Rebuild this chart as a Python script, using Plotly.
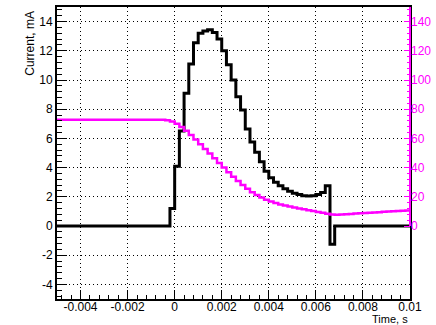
import numpy as np
import plotly.graph_objects as go

# ---------------- data ----------------
bin_start = -0.005
bin_width = 0.0002

# black histogram: current, mA (left axis), 75 bins from -0.005 to 0.01
current_mA = (
    [0.0] * 24 +
    [1.2,
     4.1, 6.5, 9.1, 11.1, 12.55, 13.2, 13.35, 13.45, 13.25, 12.8,
     12.0, 11.05, 10.0, 8.85, 7.95, 6.65, 5.75, 5.05, 4.4, 3.75,
     3.3, 3.0, 2.75, 2.55, 2.38, 2.25, 2.15, 2.08, 2.05, 2.08,
     2.15, 2.3, 2.75,
     -1.25] +
    [0.0] * 16
)

# magenta histogram: right-axis quantity, 75 bins from -0.005 to 0.01
magenta_vals = (
    [72.8] * 23 +
    [72.5, 71.5,
     70.0, 67.8, 65.2, 62.3, 59.2, 56.0, 52.8, 49.6, 46.4, 43.2,
     40.0, 36.8, 33.8, 30.8, 28.0, 25.5, 23.2, 21.2, 19.5, 18.0,
     16.7, 15.7, 14.8, 14.0, 13.3, 12.6, 12.0, 11.4, 10.8, 10.2,
     9.6, 9.0, 8.4, 7.8, 7.7,
     7.9, 8.1, 8.3, 8.5, 8.7, 8.9, 9.1, 9.3, 9.5, 9.7, 9.9, 10.1, 10.3, 10.5, 10.7]
)

x_tick_vals = [-0.004, -0.002, 0, 0.002, 0.004, 0.006, 0.008, 0.01]
x_tick_text = ["-0.004", "-0.002", "0", "0.002", "0.004", "0.006", "0.008", "0.01"]
y_tick_vals = [-4, -2, 0, 2, 4, 6, 8, 10, 12, 14]
y_tick_text = ["-4", "-2", "0", "2", "4", "6", "8", "10", "12", "14"]
y2_tick_vals = [0, 20, 40, 60, 80, 100, 120, 140]
y2_tick_text = ["0", "20", "40", "60", "80", "100", "120", "140"]

x_title = "Time, s"
y_title = "Current, mA"

# ---------------- helpers ----------------
def step_xy(values):
    n = len(values)
    edges = [bin_start + i * bin_width for i in range(n + 1)]
    return edges, list(values) + [values[-1]]

MAG = "#ff00ff"
FONT = "Liberation Sans, Arial, sans-serif"
GRID_DASH = "1px,3px"

fig = go.Figure()

bx, by = step_xy(current_mA)
fig.add_trace(go.Scatter(x=bx, y=by, mode="lines", line=dict(color="black", width=3, shape="hv"),
                         yaxis="y", showlegend=False, hoverinfo="skip"))
mx, my = step_xy(magenta_vals)
fig.add_trace(go.Scatter(x=mx, y=my, mode="lines", line=dict(color=MAG, width=2.5, shape="hv"),
                         yaxis="y2", showlegend=False, hoverinfo="skip"))

x_minor = [round(v, 5) for v in np.arange(-0.0048, 0.01, 0.0004) if all(abs(v - t) > 1e-6 for t in x_tick_vals)]
y_minor = [round(v, 3) for v in np.arange(-4.8, 15.0, 0.4) if all(abs(v - t) > 1e-6 for t in y_tick_vals)]
y2_minor = [v for v in range(4, 150, 4) if v not in y2_tick_vals]

fig.update_layout(
    width=436, height=325,
    margin=dict(l=57, r=26, t=5, b=26),
    paper_bgcolor="white", plot_bgcolor="white",
    font=dict(family=FONT, size=12, color="black"),
    xaxis=dict(
        range=[-0.005, 0.01], tickmode="array", tickvals=x_tick_vals, ticktext=x_tick_text,
        ticks="inside", ticklen=9, tickwidth=1, tickcolor="black",
        showline=True, linecolor="black", linewidth=2, mirror=True,
        showgrid=True, gridcolor="black", gridwidth=1, griddash=GRID_DASH,
        zeroline=False, ticklabelstandoff=-4,
        minor=dict(tickmode="array", tickvals=x_minor, ticks="inside", ticklen=4.5,
                   tickcolor="black", showgrid=False),
        tickfont=dict(size=12, color="black"),
    ),
    yaxis=dict(
        range=[-5, 15], tickmode="array", tickvals=y_tick_vals, ticktext=y_tick_text,
        ticks="inside", ticklen=10, tickwidth=1, tickcolor="black",
        showline=True, linecolor="black", linewidth=2, mirror=True,
        showgrid=True, gridcolor="black", gridwidth=1, griddash=GRID_DASH,
        zeroline=False,
        minor=dict(tickmode="array", tickvals=y_minor, ticks="inside", ticklen=5,
                   tickcolor="black", showgrid=False),
        tickfont=dict(size=12, color="black"),
    ),
    yaxis2=dict(
        range=[-50, 150], overlaying="y", side="right", anchor="x",
        tickmode="array", tickvals=y2_tick_vals, ticktext=y2_tick_text,
        ticks="inside", ticklen=6, tickwidth=1, tickcolor=MAG,
        showline=False, showgrid=False, zeroline=False,
        minor=dict(tickmode="array", tickvals=y2_minor, ticks="inside", ticklen=3,
                   tickcolor=MAG, showgrid=False),
        tickfont=dict(size=12, color=MAG),
    ),
    shapes=[dict(type="line", xref="paper", yref="y2", x0=1, x1=1, y0=0, y1=150,
                 line=dict(color=MAG, width=2), layer="above")],
    annotations=[
        dict(text=y_title, xref="paper", yref="paper", x=-0.077, y=0.995,
             xanchor="center", yanchor="top", textangle=-90, showarrow=False,
             font=dict(size=12, color="black")),
        dict(text=x_title, xref="paper", yref="paper", x=1.0, y=-0.069,
             xanchor="right", yanchor="middle", showarrow=False,
             font=dict(size=11, color="black")),
    ],
)

fig.write_html(
    "out.html",
    config={"displayModeBar": False},
    post_script="document.body.style.margin='0px';document.body.style.overflow='hidden';",
)
